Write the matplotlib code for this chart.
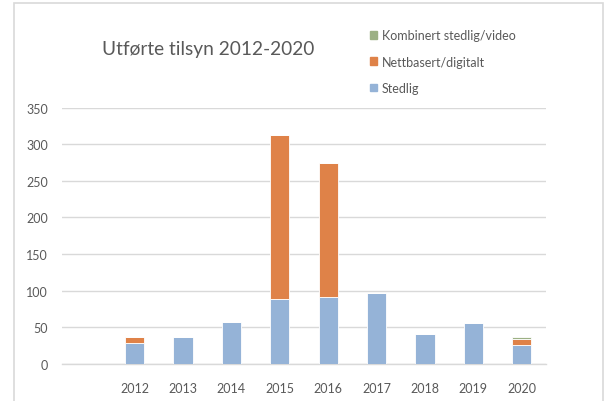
import matplotlib.pyplot as plt
from matplotlib.patches import Patch, Rectangle

# Data
years = ['', '2012', '2013', '2014', '2015', '2016', '2017', '2018', '2019', '2020']
stedlig = [0, 28, 37, 57, 88, 91, 96, 41, 56, 26]
nettbasert = [0, 9, 0, 0, 225, 184, 0, 0, 0, 8]
kombinert = [0, 0, 0, 0, 0, 0, 0, 0, 0, 3]

c_sted = '#95B3D7'
c_nett = '#DF8248'
c_komb = '#9CB084'
grey = '#595959'

plt.rcParams['font.family'] = ['Lato', 'DejaVu Sans']

fig = plt.figure(figsize=(6.06, 4.02), dpi=100)
ax = fig.add_axes([0.1023, 0.0928, 0.7987, 0.6368])

# chart border
fig.patches.append(Rectangle((14/606, -0.05), (603-14)/606, 1 - 4/402 + 0.05,
                             transform=fig.transFigure, fill=False,
                             edgecolor='#D9D9D9', linewidth=1.2))

x = list(range(len(years)))
w = 0.4
ax.bar(x, stedlig, w, color=c_sted, edgecolor='white', linewidth=0.6, zorder=3)
ax.bar(x, nettbasert, w, bottom=stedlig, color=c_nett, edgecolor='white',
       linewidth=0.6, zorder=3)
bot2 = [a + b for a, b in zip(stedlig, nettbasert)]
ax.bar(x, kombinert, w, bottom=bot2, color=c_komb, edgecolor='white',
       linewidth=0.6, zorder=3)

ax.set_xlim(-0.5, len(years) - 0.5)
ax.set_ylim(0, 350)
ax.set_yticks(range(0, 351, 50))
ax.set_xticks(x)
ax.set_xticklabels(years)
ax.yaxis.grid(True, color='#D9D9D9', linewidth=1.0, zorder=0)
ax.set_axisbelow(True)
for s in ['top', 'right', 'left']:
    ax.spines[s].set_visible(False)
ax.spines['bottom'].set_color('#D9D9D9')
ax.spines['bottom'].set_linewidth(1.0)
ax.tick_params(axis='both', length=0, labelsize=9, colors=grey)
ax.tick_params(axis='y', pad=10)
ax.tick_params(axis='x', pad=13)

fig.text(0.3430, 0.876, 'Utførte tilsyn 2012-2020', fontsize=13.8, color=grey,
         ha='center', va='center')

handles = [Patch(color=c_komb), Patch(color=c_nett), Patch(color=c_sted)]
labels = ['Kombinert stedlig/video', 'Nettbasert/digitalt', 'Stedlig']
fig.legend(handles, labels, loc='upper left', bbox_to_anchor=(0.6105, 0.925),
           frameon=False, fontsize=9, labelcolor=grey, handlelength=0.6,
           handleheight=0.6, handletextpad=0.35, labelspacing=1.15,
           borderaxespad=0, borderpad=0)

fig.savefig('out.png', dpi=100)
